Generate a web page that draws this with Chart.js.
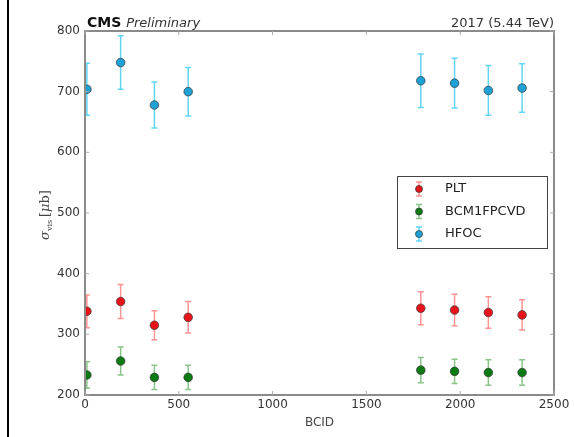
<!DOCTYPE html>
<html>
<head>
<meta charset="utf-8">
<script src="https://cdn.jsdelivr.net/npm/chart.js@4"></script>
<style>
  html, body { margin: 0; padding: 0; background: #fff; }
  #wrap { position: relative; width: 574px; height: 437px; }
  #edge { position: absolute; left: 7px; top: 0; width: 2px; height: 437px; background: #000; }
</style>
</head>
<body>
<div id="wrap">
  <canvas id="chart" width="574" height="437"></canvas>
  <div id="edge"></div>
</div>
<script>
const bcid = [10, 190, 370, 550, 1790, 1970, 2150, 2330];
const pltValues = [338, 354, 315, 328, 343, 340, 336, 332];
const pltErrors = [27, 28, 24, 26, 27, 26, 26, 25];
const bcmValues = [233, 256, 229, 229, 241, 239, 237, 237];
const bcmErrors = [22, 23, 20, 20, 21, 20, 21, 21];
const hfocValues = [704, 748, 678, 700, 718, 714, 702, 706];
const hfocErrors = [43, 44, 38, 40, 44, 41, 41, 40];
const xTicks = [0, 500, 1000, 1500, 2000, 2500];
const yTicks = [200, 300, 400, 500, 600, 700, 800];

const font = 'DejaVu Sans';

function points(values) {
    return bcid.map((x, i) => ({ x: x, y: values[i] }));
}

const series = [
    { label: 'PLT', values: pltValues, errors: pltErrors, fill: '#e8141a', bar: 'rgba(255,60,60,0.55)' },
    { label: 'BCM1FPCVD', values: bcmValues, errors: bcmErrors, fill: '#0a7a12', bar: 'rgba(40,150,40,0.55)' },
    { label: 'HFOC', values: hfocValues, errors: hfocErrors, fill: '#1ea2d6', bar: 'rgba(70,205,245,0.85)' }
];

// error bars, frame, inner ticks, titles and legend
const decor = {
    id: 'decor',
    beforeDatasetsDraw(chart) {
        const ctx = chart.ctx;
        const xs = chart.scales.x, ys = chart.scales.y;
        ctx.save();
        series.forEach(s => {
            ctx.strokeStyle = s.bar;
            ctx.lineWidth = 1.5;
            s.values.forEach((v, i) => {
                const px = xs.getPixelForValue(bcid[i]);
                const top = ys.getPixelForValue(v + s.errors[i]);
                const bot = ys.getPixelForValue(v - s.errors[i]);
                ctx.beginPath();
                ctx.moveTo(px, top); ctx.lineTo(px, bot);
                ctx.moveTo(px - 3, top); ctx.lineTo(px + 3, top);
                ctx.moveTo(px - 3, bot); ctx.lineTo(px + 3, bot);
                ctx.stroke();
            });
        });
        ctx.restore();
    },
    afterDraw(chart) {
        const ctx = chart.ctx;
        const a = chart.chartArea;
        const xs = chart.scales.x, ys = chart.scales.y;
        ctx.save();
        // frame
        ctx.strokeStyle = '#8a8a8a';
        ctx.lineWidth = 2;
        ctx.strokeRect(a.left, a.top, a.right - a.left, a.bottom - a.top);
        // inner ticks
        ctx.lineWidth = 1;
        ctx.strokeStyle = '#aaa';
        ctx.beginPath();
        xTicks.forEach(t => {
            const px = xs.getPixelForValue(t);
            ctx.moveTo(px, a.bottom); ctx.lineTo(px, a.bottom - 4);
            ctx.moveTo(px, a.top); ctx.lineTo(px, a.top + 4);
        });
        yTicks.forEach(t => {
            const py = ys.getPixelForValue(t);
            ctx.moveTo(a.left, py); ctx.lineTo(a.left + 4, py);
            ctx.moveTo(a.right, py); ctx.lineTo(a.right - 4, py);
        });
        ctx.stroke();

        // header
        ctx.fillStyle = '#111';
        ctx.textBaseline = 'alphabetic';
        ctx.textAlign = 'left';
        ctx.font = 'bold 14px ' + font;
        ctx.fillText('CMS', a.left + 2, a.top - 4);
        const w = ctx.measureText('CMS ').width;
        ctx.font = 'italic 13px ' + font;
        ctx.fillStyle = '#333';
        ctx.fillText('Preliminary', a.left + 2 + w, a.top - 4);
        ctx.textAlign = 'right';
        ctx.font = '13px ' + font;
        ctx.fillText('2017 (5.44 TeV)', a.right, a.top - 4);

        // axis titles
        ctx.fillStyle = '#444';
        ctx.textAlign = 'center';
        ctx.font = '12px ' + font;
        ctx.fillText('BCID', (a.left + a.right) / 2, 426);
        ctx.save();
        ctx.translate(46, (a.top + a.bottom) / 2);
        ctx.rotate(-Math.PI / 2);
        ctx.textBaseline = 'middle';
        ctx.font = 'italic 13px DejaVu Serif';
        const sig = 'σ';
        ctx.textAlign = 'left';
        const full = ctx.measureText(sig).width + 14 + ctx.measureText('[μb]').width + 4;
        let cx = -full / 2;
        ctx.fillText(sig, cx, 0);
        cx += ctx.measureText(sig).width;
        ctx.font = '8px DejaVu Serif';
        ctx.fillText('vis', cx, 4);
        cx += 14;
        ctx.font = '13px DejaVu Serif';
        ctx.fillText('[', cx, 0);
        cx += ctx.measureText('[').width;
        ctx.font = 'italic 13px DejaVu Serif';
        ctx.fillText('μ', cx, 0);
        cx += ctx.measureText('μ').width;
        ctx.font = '13px DejaVu Serif';
        ctx.fillText('b]', cx, 0);
        ctx.restore();

        // legend
        const lx = 397, ly = 176, lw = 150, lh = 72;
        ctx.fillStyle = '#fff';
        ctx.fillRect(lx, ly, lw, lh);
        ctx.strokeStyle = '#444';
        ctx.lineWidth = 1;
        ctx.strokeRect(lx + 0.5, ly + 0.5, lw, lh);
        series.forEach((s, i) => {
            const my = 189 + i * 22.5;
            ctx.strokeStyle = s.bar;
            ctx.lineWidth = 1.5;
            ctx.beginPath();
            ctx.moveTo(419, my - 7); ctx.lineTo(419, my + 7);
            ctx.moveTo(416, my - 7); ctx.lineTo(422, my - 7);
            ctx.moveTo(416, my + 7); ctx.lineTo(422, my + 7);
            ctx.stroke();
            ctx.beginPath();
            ctx.arc(419, my, 3.5, 0, Math.PI * 2);
            ctx.fillStyle = s.fill;
            ctx.fill();
            ctx.strokeStyle = '#333';
            ctx.lineWidth = 0.7;
            ctx.stroke();
            ctx.fillStyle = '#222';
            ctx.textAlign = 'left';
            ctx.textBaseline = 'middle';
            ctx.font = '13px ' + font;
            ctx.fillText(s.label, 445, my);
        });
        ctx.restore();
    }
};

new Chart(document.getElementById('chart'), {
    type: 'scatter',
    data: {
        datasets: series.map(s => ({
            label: s.label,
            data: points(s.values),
            backgroundColor: s.fill,
            borderColor: '#333',
            borderWidth: 0.7,
            pointRadius: 4.3,
            pointHoverRadius: 4.3
        }))
    },
    options: {
        responsive: false,
        animation: false,
        layout: { padding: { left: 45, top: 31, right: 20, bottom: 0 } },
        plugins: { legend: { display: false }, tooltip: { enabled: false } },
        scales: {
            x: {
                type: 'linear',
                min: 0, max: 2500,
                afterBuildTicks: s => { s.ticks = xTicks.map(v => ({ value: v })); },
                afterFit: s => { s.height = 42; },
                grid: { display: false, drawTicks: false },
                border: { display: false },
                ticks: { padding: 3, color: '#333', callback: v => String(v), font: { family: font, size: 12 } }
            },
            y: {
                type: 'linear',
                min: 200, max: 800,
                afterBuildTicks: s => { s.ticks = yTicks.map(v => ({ value: v })); },
                afterFit: s => { s.width = 40; },
                grid: { display: false, drawTicks: false },
                border: { display: false },
                ticks: { padding: 5, color: '#333', callback: v => String(v), font: { family: font, size: 12 } }
            }
        }
    },
    plugins: [decor]
});
</script>
</body>
</html>
